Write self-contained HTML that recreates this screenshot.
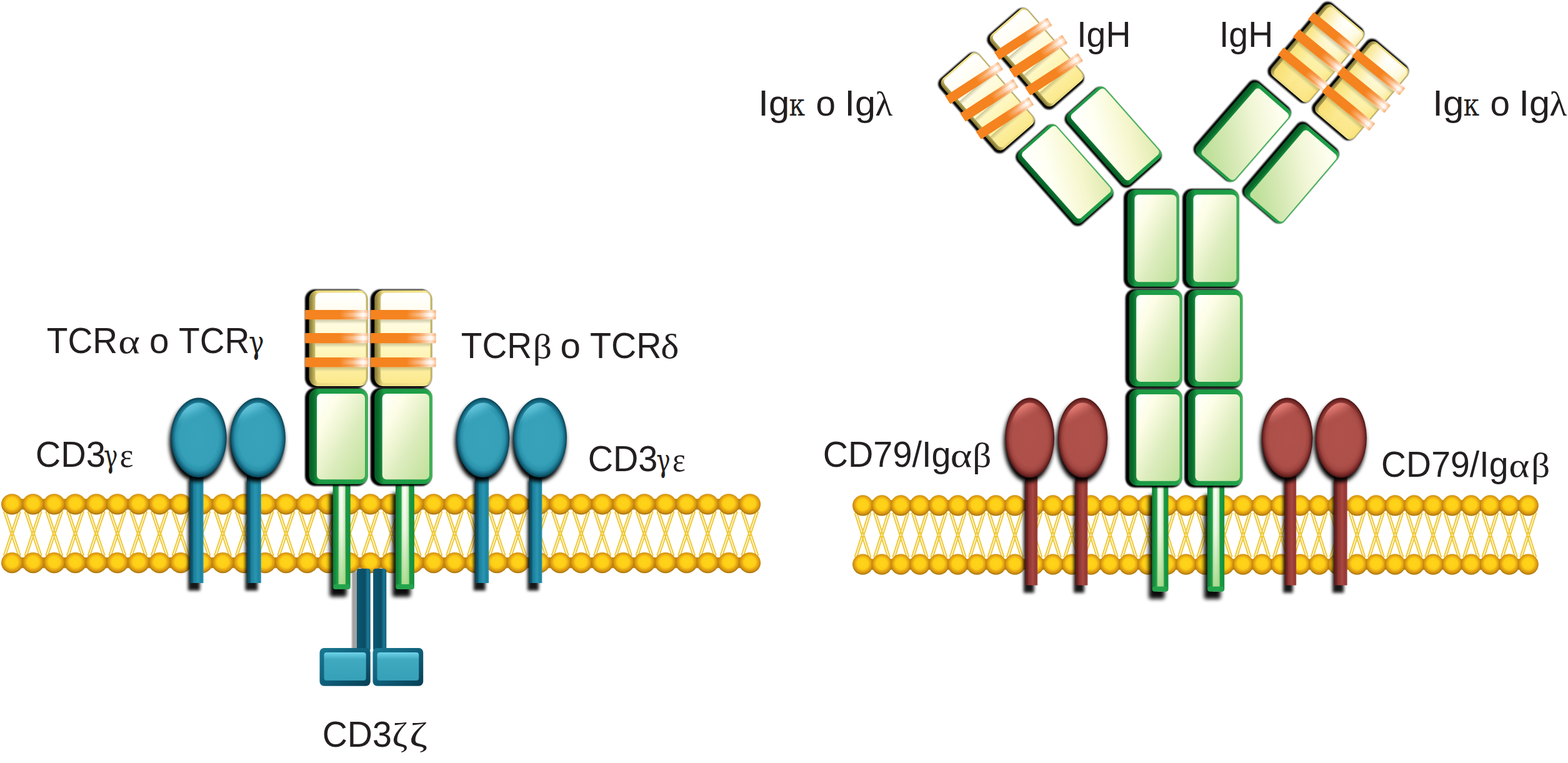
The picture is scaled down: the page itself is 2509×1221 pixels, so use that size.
<!DOCTYPE html>
<html lang="es"><head><meta charset="utf-8"><title>TCR y BCR</title>
<style>
html,body{margin:0;padding:0;background:#fff;}
body{width:2509px;height:1221px;overflow:hidden;}
svg{display:block;}
text{font-family:"Liberation Sans",sans-serif;fill:#231f20;white-space:pre;}
.gk{font-family:"Liberation Serif","DejaVu Serif",serif;}
.gd{font-family:"DejaVu Serif","Liberation Serif",serif;}
</style></head><body>
<svg width="2509" height="1221" viewBox="0 0 2509 1221">

<defs>
  <!-- lipid heads -->
  <radialGradient id="hd" cx="0.5" cy="0.46" r="0.52">
    <stop offset="0" stop-color="#ffd41a"/>
    <stop offset="0.5" stop-color="#fdd017"/>
    <stop offset="0.62" stop-color="#f5bb15"/>
    <stop offset="0.72" stop-color="#e7a912"/>
    <stop offset="0.88" stop-color="#d29010"/>
    <stop offset="1" stop-color="#a9760e"/>
  </radialGradient>
  <!-- teal -->
  <radialGradient id="tealE" cx="0.5" cy="0.5" r="0.5">
    <stop offset="0" stop-color="#37a2ba"/>
    <stop offset="0.7" stop-color="#35a0b8"/>
    <stop offset="0.83" stop-color="#2a90aa"/>
    <stop offset="0.93" stop-color="#13667e"/>
    <stop offset="1" stop-color="#073f52"/>
  </radialGradient>
  <linearGradient id="tealHi" x1="0.3" y1="0" x2="0.6" y2="1">
    <stop offset="0" stop-color="#7fdcf0" stop-opacity="0.85"/>
    <stop offset="0.1" stop-color="#6fd0e6" stop-opacity="0.6"/>
    <stop offset="0.24" stop-color="#46b0c8" stop-opacity="0"/>
  </linearGradient>
  <linearGradient id="tealS" x1="0" y1="0" x2="1" y2="0">
    <stop offset="0" stop-color="#0a4357"/>
    <stop offset="0.2" stop-color="#0f5a72"/>
    <stop offset="0.3" stop-color="#1b7f9b"/>
    <stop offset="0.62" stop-color="#2a96b2"/>
    <stop offset="0.85" stop-color="#1c829e"/>
    <stop offset="1" stop-color="#2b94b0"/>
  </linearGradient>
  <linearGradient id="tealZ" x1="0" y1="0" x2="1" y2="0">
    <stop offset="0" stop-color="#0c566f"/>
    <stop offset="0.6" stop-color="#0a4d66"/>
    <stop offset="0.8" stop-color="#1a7894"/>
    <stop offset="1" stop-color="#0f607b"/>
  </linearGradient>
  <linearGradient id="tealB" x1="0" y1="0" x2="0" y2="1">
    <stop offset="0" stop-color="#6fd4ea"/>
    <stop offset="0.25" stop-color="#3fa9c0"/>
    <stop offset="1" stop-color="#36a0b8"/>
  </linearGradient>
  <linearGradient id="tealBo" x1="0" y1="0" x2="1" y2="1">
    <stop offset="0" stop-color="#1a7892"/>
    <stop offset="0.5" stop-color="#0f5f7a"/>
    <stop offset="1" stop-color="#083f55"/>
  </linearGradient>
  <!-- red -->
  <radialGradient id="redE" cx="0.5" cy="0.5" r="0.5">
    <stop offset="0" stop-color="#b0524b"/>
    <stop offset="0.7" stop-color="#ae504a"/>
    <stop offset="0.83" stop-color="#a04540"/>
    <stop offset="0.93" stop-color="#782a28"/>
    <stop offset="1" stop-color="#4a1413"/>
  </radialGradient>
  <linearGradient id="redHi" x1="0.3" y1="0" x2="0.6" y2="1">
    <stop offset="0" stop-color="#ff9b90" stop-opacity="0.85"/>
    <stop offset="0.1" stop-color="#f0857c" stop-opacity="0.6"/>
    <stop offset="0.24" stop-color="#c0605a" stop-opacity="0"/>
  </linearGradient>
  <linearGradient id="redS" x1="0" y1="0" x2="1" y2="0">
    <stop offset="0" stop-color="#571a19"/>
    <stop offset="0.2" stop-color="#702524"/>
    <stop offset="0.3" stop-color="#8e3532"/>
    <stop offset="0.62" stop-color="#a84842"/>
    <stop offset="0.85" stop-color="#933935"/>
    <stop offset="1" stop-color="#a5453f"/>
  </linearGradient>
  <!-- green box -->
  <linearGradient id="grO" x1="0" y1="0" x2="1" y2="0">
    <stop offset="0" stop-color="#075a24"/>
    <stop offset="0.08" stop-color="#0b6f2e"/>
    <stop offset="0.16" stop-color="#1c9a45"/>
    <stop offset="0.9" stop-color="#1fa049"/>
    <stop offset="1" stop-color="#4db35f"/>
  </linearGradient>
  <linearGradient id="grI" x1="0" y1="0" x2="1" y2="1">
    <stop offset="0" stop-color="#ffffff"/>
    <stop offset="0.25" stop-color="#fdfde6"/>
    <stop offset="0.6" stop-color="#dcecbd"/>
    <stop offset="1" stop-color="#bfe09a"/>
  </linearGradient>
  <linearGradient id="grSt" x1="0" y1="0" x2="1" y2="0">
    <stop offset="0" stop-color="#0d7a33"/>
    <stop offset="0.3" stop-color="#23a44c"/>
    <stop offset="0.36" stop-color="#e9f6dc"/>
    <stop offset="0.5" stop-color="#ffffff"/>
    <stop offset="0.68" stop-color="#d3eac0"/>
    <stop offset="0.74" stop-color="#1c9a45"/>
    <stop offset="1" stop-color="#15903f"/>
  </linearGradient>
  <linearGradient id="grStV" x1="0" y1="0" x2="0" y2="1">
    <stop offset="0" stop-color="#8fd06f" stop-opacity="0"/>
    <stop offset="0.45" stop-color="#8fd06f" stop-opacity="0.15"/>
    <stop offset="1" stop-color="#8fd06f" stop-opacity="0.75"/>
  </linearGradient>
  <!-- yellow box -->
  <linearGradient id="ylO" x1="0" y1="0" x2="1" y2="0">
    <stop offset="0" stop-color="#7d7130"/>
    <stop offset="0.07" stop-color="#b3a455"/>
    <stop offset="0.14" stop-color="#e9d980"/>
    <stop offset="0.9" stop-color="#f5e68e"/>
    <stop offset="1" stop-color="#b9aa5e"/>
  </linearGradient>
  <linearGradient id="ylI" x1="0" y1="0" x2="0" y2="1">
    <stop offset="0" stop-color="#ffffff"/>
    <stop offset="0.2" stop-color="#fffdf0"/>
    <stop offset="0.6" stop-color="#fff8c4"/>
    <stop offset="1" stop-color="#fbe98c"/>
  </linearGradient>
  <linearGradient id="bandG" x1="0" y1="0" x2="1" y2="0">
    <stop offset="0" stop-color="#f5831f"/>
    <stop offset="0.55" stop-color="#f5831f"/>
    <stop offset="0.75" stop-color="#f8a25a"/>
    <stop offset="0.92" stop-color="#fde3cf"/>
    <stop offset="0.97" stop-color="#fbc79e"/>
    <stop offset="1" stop-color="#f8a868"/>
  </linearGradient>
  <linearGradient id="bandW" x1="0" y1="0" x2="1" y2="0">
    <stop offset="0.55" stop-color="#fff" stop-opacity="0"/>
    <stop offset="0.8" stop-color="#fff" stop-opacity="0.35"/>
    <stop offset="0.93" stop-color="#fff" stop-opacity="0.85"/>
    <stop offset="1" stop-color="#fff" stop-opacity="0.2"/>
  </linearGradient>
  <linearGradient id="grIa" x1="0" y1="0" x2="1" y2="1">
    <stop offset="0" stop-color="#ffffff"/>
    <stop offset="0.3" stop-color="#fffff2"/>
    <stop offset="0.65" stop-color="#f6f7cf"/>
    <stop offset="1" stop-color="#dfe9ae"/>
  </linearGradient>
  <linearGradient id="grIb" x1="0.7" y1="0" x2="0.3" y2="1">
    <stop offset="0" stop-color="#fffff0"/>
    <stop offset="0.35" stop-color="#f1f6d6"/>
    <stop offset="0.7" stop-color="#d6e9b5"/>
    <stop offset="1" stop-color="#bfe09a"/>
  </linearGradient>
  <linearGradient id="ylIb" x1="0" y1="0" x2="0" y2="1">
    <stop offset="0" stop-color="#ffffff"/>
    <stop offset="0.25" stop-color="#fffbe0"/>
    <stop offset="0.6" stop-color="#fdf1a6"/>
    <stop offset="1" stop-color="#fbe583"/>
  </linearGradient>
  <linearGradient id="ylSide" x1="0" y1="0" x2="1" y2="0">
    <stop offset="0" stop-color="#f7dc6a" stop-opacity="0.75"/>
    <stop offset="0.3" stop-color="#f9e27a" stop-opacity="0.25"/>
    <stop offset="0.5" stop-color="#ffffff" stop-opacity="0"/>
    <stop offset="0.85" stop-color="#fbe88a" stop-opacity="0.2"/>
    <stop offset="1" stop-color="#f7dc6a" stop-opacity="0.5"/>
  </linearGradient>
  <linearGradient id="bandSh" x1="0" y1="0" x2="0" y2="1">
    <stop offset="0" stop-color="#8a8550" stop-opacity="0.45"/>
    <stop offset="1" stop-color="#8a8550" stop-opacity="0"/>
  </linearGradient>
  <filter id="sh" x="-30%" y="-30%" width="160%" height="160%">
    <feGaussianBlur stdDeviation="3.2"/>
  </filter>
  <filter id="sh2" x="-60%" y="-10%" width="220%" height="120%">
    <feGaussianBlur stdDeviation="2.4"/>
  </filter>
  <filter id="sh1" x="-30%" y="-30%" width="160%" height="160%">
    <feGaussianBlur stdDeviation="0.9"/>
  </filter>
  <filter id="soft" x="-5%" y="-5%" width="110%" height="110%">
    <feGaussianBlur stdDeviation="0.7"/>
  </filter>
</defs>

<rect width="2509" height="1221" fill="#fff"/>
<g>
<path d="M5.74 818.42 L29.26 888.98 M29.26 818.42 L5.74 888.98 M9.34 818.42 L32.86 888.98 M32.86 818.42 L9.34 888.98 M39.47 818.42 L62.99 888.98 M62.99 818.42 L39.47 888.98 M43.07 818.42 L66.59 888.98 M66.59 818.42 L43.07 888.98 M73.2 818.42 L96.72 888.98 M96.72 818.42 L73.2 888.98 M76.8 818.42 L100.32 888.98 M100.32 818.42 L76.8 888.98 M106.93 818.42 L130.45 888.98 M130.45 818.42 L106.93 888.98 M110.53 818.42 L134.05 888.98 M134.05 818.42 L110.53 888.98 M140.66 818.42 L164.18 888.98 M164.18 818.42 L140.66 888.98 M144.26 818.42 L167.78 888.98 M167.78 818.42 L144.26 888.98 M174.39 818.42 L197.91 888.98 M197.91 818.42 L174.39 888.98 M177.99 818.42 L201.51 888.98 M201.51 818.42 L177.99 888.98 M208.12 818.42 L231.64 888.98 M231.64 818.42 L208.12 888.98 M211.72 818.42 L235.24 888.98 M235.24 818.42 L211.72 888.98 M241.85 818.42 L265.37 888.98 M265.37 818.42 L241.85 888.98 M245.45 818.42 L268.97 888.98 M268.97 818.42 L245.45 888.98 M275.58 818.42 L299.1 888.98 M299.1 818.42 L275.58 888.98 M279.18 818.42 L302.7 888.98 M302.7 818.42 L279.18 888.98 M309.31 818.42 L332.83 888.98 M332.83 818.42 L309.31 888.98 M312.91 818.42 L336.43 888.98 M336.43 818.42 L312.91 888.98 M343.04 818.42 L366.56 888.98 M366.56 818.42 L343.04 888.98 M346.64 818.42 L370.16 888.98 M370.16 818.42 L346.64 888.98 M376.77 818.42 L400.29 888.98 M400.29 818.42 L376.77 888.98 M380.37 818.42 L403.89 888.98 M403.89 818.42 L380.37 888.98 M410.5 818.42 L434.02 888.98 M434.02 818.42 L410.5 888.98 M414.1 818.42 L437.62 888.98 M437.62 818.42 L414.1 888.98 M444.23 818.42 L467.75 888.98 M467.75 818.42 L444.23 888.98 M447.83 818.42 L471.35 888.98 M471.35 818.42 L447.83 888.98 M477.96 818.42 L501.48 888.98 M501.48 818.42 L477.96 888.98 M481.56 818.42 L505.08 888.98 M505.08 818.42 L481.56 888.98 M511.69 818.42 L535.21 888.98 M535.21 818.42 L511.69 888.98 M515.29 818.42 L538.81 888.98 M538.81 818.42 L515.29 888.98 M545.42 818.42 L568.94 888.98 M568.94 818.42 L545.42 888.98 M549.02 818.42 L572.54 888.98 M572.54 818.42 L549.02 888.98 M579.15 818.42 L602.67 888.98 M602.67 818.42 L579.15 888.98 M582.75 818.42 L606.27 888.98 M606.27 818.42 L582.75 888.98 M612.88 818.42 L636.4 888.98 M636.4 818.42 L612.88 888.98 M616.48 818.42 L640 888.98 M640 818.42 L616.48 888.98 M646.61 818.42 L670.13 888.98 M670.13 818.42 L646.61 888.98 M650.21 818.42 L673.73 888.98 M673.73 818.42 L650.21 888.98 M680.34 818.42 L703.86 888.98 M703.86 818.42 L680.34 888.98 M683.94 818.42 L707.46 888.98 M707.46 818.42 L683.94 888.98 M714.07 818.42 L737.59 888.98 M737.59 818.42 L714.07 888.98 M717.67 818.42 L741.19 888.98 M741.19 818.42 L717.67 888.98 M747.8 818.42 L771.32 888.98 M771.32 818.42 L747.8 888.98 M751.4 818.42 L774.92 888.98 M774.92 818.42 L751.4 888.98 M781.53 818.42 L805.05 888.98 M805.05 818.42 L781.53 888.98 M785.13 818.42 L808.65 888.98 M808.65 818.42 L785.13 888.98 M815.26 818.42 L838.78 888.98 M838.78 818.42 L815.26 888.98 M818.86 818.42 L842.38 888.98 M842.38 818.42 L818.86 888.98 M848.99 818.42 L872.51 888.98 M872.51 818.42 L848.99 888.98 M852.59 818.42 L876.11 888.98 M876.11 818.42 L852.59 888.98 M882.72 818.42 L906.24 888.98 M906.24 818.42 L882.72 888.98 M886.32 818.42 L909.84 888.98 M909.84 818.42 L886.32 888.98 M916.45 818.42 L939.97 888.98 M939.97 818.42 L916.45 888.98 M920.05 818.42 L943.57 888.98 M943.57 818.42 L920.05 888.98 M950.18 818.42 L973.7 888.98 M973.7 818.42 L950.18 888.98 M953.78 818.42 L977.3 888.98 M977.3 818.42 L953.78 888.98 M983.91 818.42 L1007.43 888.98 M1007.43 818.42 L983.91 888.98 M987.51 818.42 L1011.03 888.98 M1011.03 818.42 L987.51 888.98 M1017.64 818.42 L1041.16 888.98 M1041.16 818.42 L1017.64 888.98 M1021.24 818.42 L1044.76 888.98 M1044.76 818.42 L1021.24 888.98 M1051.37 818.42 L1074.89 888.98 M1074.89 818.42 L1051.37 888.98 M1054.97 818.42 L1078.49 888.98 M1078.49 818.42 L1054.97 888.98 M1085.1 818.42 L1108.62 888.98 M1108.62 818.42 L1085.1 888.98 M1088.7 818.42 L1112.22 888.98 M1112.22 818.42 L1088.7 888.98 M1118.83 818.42 L1142.35 888.98 M1142.35 818.42 L1118.83 888.98 M1122.43 818.42 L1145.95 888.98 M1145.95 818.42 L1122.43 888.98 M1152.56 818.42 L1176.08 888.98 M1176.08 818.42 L1152.56 888.98 M1156.16 818.42 L1179.68 888.98 M1179.68 818.42 L1156.16 888.98 M1186.29 818.42 L1209.81 888.98 M1209.81 818.42 L1186.29 888.98 M1189.89 818.42 L1213.41 888.98 M1213.41 818.42 L1189.89 888.98" fill="none" stroke="#f0ca38" stroke-width="2.1"/>
<rect x="19.3" y="798.17" width="1180.55" height="17.26" rx="7" fill="#c48a12"/>
<ellipse cx="19.3" cy="806.8" rx="17.3" ry="16.6" fill="url(#hd)"/>
<ellipse cx="53.03" cy="806.8" rx="17.3" ry="16.6" fill="url(#hd)"/>
<ellipse cx="86.76" cy="806.8" rx="17.3" ry="16.6" fill="url(#hd)"/>
<ellipse cx="120.49" cy="806.8" rx="17.3" ry="16.6" fill="url(#hd)"/>
<ellipse cx="154.22" cy="806.8" rx="17.3" ry="16.6" fill="url(#hd)"/>
<ellipse cx="187.95" cy="806.8" rx="17.3" ry="16.6" fill="url(#hd)"/>
<ellipse cx="221.68" cy="806.8" rx="17.3" ry="16.6" fill="url(#hd)"/>
<ellipse cx="255.41" cy="806.8" rx="17.3" ry="16.6" fill="url(#hd)"/>
<ellipse cx="289.14" cy="806.8" rx="17.3" ry="16.6" fill="url(#hd)"/>
<ellipse cx="322.87" cy="806.8" rx="17.3" ry="16.6" fill="url(#hd)"/>
<ellipse cx="356.6" cy="806.8" rx="17.3" ry="16.6" fill="url(#hd)"/>
<ellipse cx="390.33" cy="806.8" rx="17.3" ry="16.6" fill="url(#hd)"/>
<ellipse cx="424.06" cy="806.8" rx="17.3" ry="16.6" fill="url(#hd)"/>
<ellipse cx="457.79" cy="806.8" rx="17.3" ry="16.6" fill="url(#hd)"/>
<ellipse cx="491.52" cy="806.8" rx="17.3" ry="16.6" fill="url(#hd)"/>
<ellipse cx="525.25" cy="806.8" rx="17.3" ry="16.6" fill="url(#hd)"/>
<ellipse cx="558.98" cy="806.8" rx="17.3" ry="16.6" fill="url(#hd)"/>
<ellipse cx="592.71" cy="806.8" rx="17.3" ry="16.6" fill="url(#hd)"/>
<ellipse cx="626.44" cy="806.8" rx="17.3" ry="16.6" fill="url(#hd)"/>
<ellipse cx="660.17" cy="806.8" rx="17.3" ry="16.6" fill="url(#hd)"/>
<ellipse cx="693.9" cy="806.8" rx="17.3" ry="16.6" fill="url(#hd)"/>
<ellipse cx="727.63" cy="806.8" rx="17.3" ry="16.6" fill="url(#hd)"/>
<ellipse cx="761.36" cy="806.8" rx="17.3" ry="16.6" fill="url(#hd)"/>
<ellipse cx="795.09" cy="806.8" rx="17.3" ry="16.6" fill="url(#hd)"/>
<ellipse cx="828.82" cy="806.8" rx="17.3" ry="16.6" fill="url(#hd)"/>
<ellipse cx="862.55" cy="806.8" rx="17.3" ry="16.6" fill="url(#hd)"/>
<ellipse cx="896.28" cy="806.8" rx="17.3" ry="16.6" fill="url(#hd)"/>
<ellipse cx="930.01" cy="806.8" rx="17.3" ry="16.6" fill="url(#hd)"/>
<ellipse cx="963.74" cy="806.8" rx="17.3" ry="16.6" fill="url(#hd)"/>
<ellipse cx="997.47" cy="806.8" rx="17.3" ry="16.6" fill="url(#hd)"/>
<ellipse cx="1031.2" cy="806.8" rx="17.3" ry="16.6" fill="url(#hd)"/>
<ellipse cx="1064.93" cy="806.8" rx="17.3" ry="16.6" fill="url(#hd)"/>
<ellipse cx="1098.66" cy="806.8" rx="17.3" ry="16.6" fill="url(#hd)"/>
<ellipse cx="1132.39" cy="806.8" rx="17.3" ry="16.6" fill="url(#hd)"/>
<ellipse cx="1166.12" cy="806.8" rx="17.3" ry="16.6" fill="url(#hd)"/>
<ellipse cx="1199.85" cy="806.8" rx="17.3" ry="16.6" fill="url(#hd)"/>
<rect x="19.3" y="891.97" width="1180.55" height="17.26" rx="7" fill="#c48a12"/>
<ellipse cx="19.3" cy="900.6" rx="17.3" ry="16.6" fill="url(#hd)"/>
<ellipse cx="53.03" cy="900.6" rx="17.3" ry="16.6" fill="url(#hd)"/>
<ellipse cx="86.76" cy="900.6" rx="17.3" ry="16.6" fill="url(#hd)"/>
<ellipse cx="120.49" cy="900.6" rx="17.3" ry="16.6" fill="url(#hd)"/>
<ellipse cx="154.22" cy="900.6" rx="17.3" ry="16.6" fill="url(#hd)"/>
<ellipse cx="187.95" cy="900.6" rx="17.3" ry="16.6" fill="url(#hd)"/>
<ellipse cx="221.68" cy="900.6" rx="17.3" ry="16.6" fill="url(#hd)"/>
<ellipse cx="255.41" cy="900.6" rx="17.3" ry="16.6" fill="url(#hd)"/>
<ellipse cx="289.14" cy="900.6" rx="17.3" ry="16.6" fill="url(#hd)"/>
<ellipse cx="322.87" cy="900.6" rx="17.3" ry="16.6" fill="url(#hd)"/>
<ellipse cx="356.6" cy="900.6" rx="17.3" ry="16.6" fill="url(#hd)"/>
<ellipse cx="390.33" cy="900.6" rx="17.3" ry="16.6" fill="url(#hd)"/>
<ellipse cx="424.06" cy="900.6" rx="17.3" ry="16.6" fill="url(#hd)"/>
<ellipse cx="457.79" cy="900.6" rx="17.3" ry="16.6" fill="url(#hd)"/>
<ellipse cx="491.52" cy="900.6" rx="17.3" ry="16.6" fill="url(#hd)"/>
<ellipse cx="525.25" cy="900.6" rx="17.3" ry="16.6" fill="url(#hd)"/>
<ellipse cx="558.98" cy="900.6" rx="17.3" ry="16.6" fill="url(#hd)"/>
<ellipse cx="592.71" cy="900.6" rx="17.3" ry="16.6" fill="url(#hd)"/>
<ellipse cx="626.44" cy="900.6" rx="17.3" ry="16.6" fill="url(#hd)"/>
<ellipse cx="660.17" cy="900.6" rx="17.3" ry="16.6" fill="url(#hd)"/>
<ellipse cx="693.9" cy="900.6" rx="17.3" ry="16.6" fill="url(#hd)"/>
<ellipse cx="727.63" cy="900.6" rx="17.3" ry="16.6" fill="url(#hd)"/>
<ellipse cx="761.36" cy="900.6" rx="17.3" ry="16.6" fill="url(#hd)"/>
<ellipse cx="795.09" cy="900.6" rx="17.3" ry="16.6" fill="url(#hd)"/>
<ellipse cx="828.82" cy="900.6" rx="17.3" ry="16.6" fill="url(#hd)"/>
<ellipse cx="862.55" cy="900.6" rx="17.3" ry="16.6" fill="url(#hd)"/>
<ellipse cx="896.28" cy="900.6" rx="17.3" ry="16.6" fill="url(#hd)"/>
<ellipse cx="930.01" cy="900.6" rx="17.3" ry="16.6" fill="url(#hd)"/>
<ellipse cx="963.74" cy="900.6" rx="17.3" ry="16.6" fill="url(#hd)"/>
<ellipse cx="997.47" cy="900.6" rx="17.3" ry="16.6" fill="url(#hd)"/>
<ellipse cx="1031.2" cy="900.6" rx="17.3" ry="16.6" fill="url(#hd)"/>
<ellipse cx="1064.93" cy="900.6" rx="17.3" ry="16.6" fill="url(#hd)"/>
<ellipse cx="1098.66" cy="900.6" rx="17.3" ry="16.6" fill="url(#hd)"/>
<ellipse cx="1132.39" cy="900.6" rx="17.3" ry="16.6" fill="url(#hd)"/>
<ellipse cx="1166.12" cy="900.6" rx="17.3" ry="16.6" fill="url(#hd)"/>
<ellipse cx="1199.85" cy="900.6" rx="17.3" ry="16.6" fill="url(#hd)"/>
</g>
<g>
<path d="M1367.58 820.52 L1390.02 891.58 M1390.02 820.52 L1367.58 891.58 M1371.18 820.52 L1393.62 891.58 M1393.62 820.52 L1371.18 891.58 M1398 820.52 L1420.44 891.58 M1420.44 820.52 L1398 891.58 M1401.6 820.52 L1424.04 891.58 M1424.04 820.52 L1401.6 891.58 M1428.42 820.52 L1450.86 891.58 M1450.86 820.52 L1428.42 891.58 M1432.02 820.52 L1454.46 891.58 M1454.46 820.52 L1432.02 891.58 M1458.84 820.52 L1481.28 891.58 M1481.28 820.52 L1458.84 891.58 M1462.44 820.52 L1484.88 891.58 M1484.88 820.52 L1462.44 891.58 M1489.26 820.52 L1511.7 891.58 M1511.7 820.52 L1489.26 891.58 M1492.86 820.52 L1515.3 891.58 M1515.3 820.52 L1492.86 891.58 M1519.68 820.52 L1542.12 891.58 M1542.12 820.52 L1519.68 891.58 M1523.28 820.52 L1545.72 891.58 M1545.72 820.52 L1523.28 891.58 M1550.1 820.52 L1572.54 891.58 M1572.54 820.52 L1550.1 891.58 M1553.7 820.52 L1576.14 891.58 M1576.14 820.52 L1553.7 891.58 M1580.52 820.52 L1602.96 891.58 M1602.96 820.52 L1580.52 891.58 M1584.12 820.52 L1606.56 891.58 M1606.56 820.52 L1584.12 891.58 M1610.94 820.52 L1633.38 891.58 M1633.38 820.52 L1610.94 891.58 M1614.54 820.52 L1636.98 891.58 M1636.98 820.52 L1614.54 891.58 M1641.36 820.52 L1663.8 891.58 M1663.8 820.52 L1641.36 891.58 M1644.96 820.52 L1667.4 891.58 M1667.4 820.52 L1644.96 891.58 M1671.78 820.52 L1694.22 891.58 M1694.22 820.52 L1671.78 891.58 M1675.38 820.52 L1697.82 891.58 M1697.82 820.52 L1675.38 891.58 M1702.2 820.52 L1724.64 891.58 M1724.64 820.52 L1702.2 891.58 M1705.8 820.52 L1728.24 891.58 M1728.24 820.52 L1705.8 891.58 M1732.62 820.52 L1755.06 891.58 M1755.06 820.52 L1732.62 891.58 M1736.22 820.52 L1758.66 891.58 M1758.66 820.52 L1736.22 891.58 M1763.04 820.52 L1785.48 891.58 M1785.48 820.52 L1763.04 891.58 M1766.64 820.52 L1789.08 891.58 M1789.08 820.52 L1766.64 891.58 M1793.46 820.52 L1815.9 891.58 M1815.9 820.52 L1793.46 891.58 M1797.06 820.52 L1819.5 891.58 M1819.5 820.52 L1797.06 891.58 M1823.88 820.52 L1846.32 891.58 M1846.32 820.52 L1823.88 891.58 M1827.48 820.52 L1849.92 891.58 M1849.92 820.52 L1827.48 891.58 M1854.3 820.52 L1876.74 891.58 M1876.74 820.52 L1854.3 891.58 M1857.9 820.52 L1880.34 891.58 M1880.34 820.52 L1857.9 891.58 M1884.72 820.52 L1907.16 891.58 M1907.16 820.52 L1884.72 891.58 M1888.32 820.52 L1910.76 891.58 M1910.76 820.52 L1888.32 891.58 M1915.14 820.52 L1937.58 891.58 M1937.58 820.52 L1915.14 891.58 M1918.74 820.52 L1941.18 891.58 M1941.18 820.52 L1918.74 891.58 M1945.56 820.52 L1968 891.58 M1968 820.52 L1945.56 891.58 M1949.16 820.52 L1971.6 891.58 M1971.6 820.52 L1949.16 891.58 M1975.98 820.52 L1998.42 891.58 M1998.42 820.52 L1975.98 891.58 M1979.58 820.52 L2002.02 891.58 M2002.02 820.52 L1979.58 891.58 M2006.4 820.52 L2028.84 891.58 M2028.84 820.52 L2006.4 891.58 M2010 820.52 L2032.44 891.58 M2032.44 820.52 L2010 891.58 M2036.82 820.52 L2059.26 891.58 M2059.26 820.52 L2036.82 891.58 M2040.42 820.52 L2062.86 891.58 M2062.86 820.52 L2040.42 891.58 M2067.24 820.52 L2089.68 891.58 M2089.68 820.52 L2067.24 891.58 M2070.84 820.52 L2093.28 891.58 M2093.28 820.52 L2070.84 891.58 M2097.66 820.52 L2120.1 891.58 M2120.1 820.52 L2097.66 891.58 M2101.26 820.52 L2123.7 891.58 M2123.7 820.52 L2101.26 891.58 M2128.08 820.52 L2150.52 891.58 M2150.52 820.52 L2128.08 891.58 M2131.68 820.52 L2154.12 891.58 M2154.12 820.52 L2131.68 891.58 M2158.5 820.52 L2180.94 891.58 M2180.94 820.52 L2158.5 891.58 M2162.1 820.52 L2184.54 891.58 M2184.54 820.52 L2162.1 891.58 M2188.92 820.52 L2211.36 891.58 M2211.36 820.52 L2188.92 891.58 M2192.52 820.52 L2214.96 891.58 M2214.96 820.52 L2192.52 891.58 M2219.34 820.52 L2241.78 891.58 M2241.78 820.52 L2219.34 891.58 M2222.94 820.52 L2245.38 891.58 M2245.38 820.52 L2222.94 891.58 M2249.76 820.52 L2272.2 891.58 M2272.2 820.52 L2249.76 891.58 M2253.36 820.52 L2275.8 891.58 M2275.8 820.52 L2253.36 891.58 M2280.18 820.52 L2302.62 891.58 M2302.62 820.52 L2280.18 891.58 M2283.78 820.52 L2306.22 891.58 M2306.22 820.52 L2283.78 891.58 M2310.6 820.52 L2333.04 891.58 M2333.04 820.52 L2310.6 891.58 M2314.2 820.52 L2336.64 891.58 M2336.64 820.52 L2314.2 891.58 M2341.02 820.52 L2363.46 891.58 M2363.46 820.52 L2341.02 891.58 M2344.62 820.52 L2367.06 891.58 M2367.06 820.52 L2344.62 891.58 M2371.44 820.52 L2393.88 891.58 M2393.88 820.52 L2371.44 891.58 M2375.04 820.52 L2397.48 891.58 M2397.48 820.52 L2375.04 891.58 M2401.86 820.52 L2424.3 891.58 M2424.3 820.52 L2401.86 891.58 M2405.46 820.52 L2427.9 891.58 M2427.9 820.52 L2405.46 891.58 M2432.28 820.52 L2454.72 891.58 M2454.72 820.52 L2432.28 891.58 M2435.88 820.52 L2458.32 891.58 M2458.32 820.52 L2435.88 891.58" fill="none" stroke="#f0ca38" stroke-width="2.1"/>
<rect x="1380.6" y="800.27" width="1064.7" height="17.26" rx="7" fill="#c48a12"/>
<ellipse cx="1380.6" cy="808.9" rx="16.5" ry="16.6" fill="url(#hd)"/>
<ellipse cx="1411.02" cy="808.9" rx="16.5" ry="16.6" fill="url(#hd)"/>
<ellipse cx="1441.44" cy="808.9" rx="16.5" ry="16.6" fill="url(#hd)"/>
<ellipse cx="1471.86" cy="808.9" rx="16.5" ry="16.6" fill="url(#hd)"/>
<ellipse cx="1502.28" cy="808.9" rx="16.5" ry="16.6" fill="url(#hd)"/>
<ellipse cx="1532.7" cy="808.9" rx="16.5" ry="16.6" fill="url(#hd)"/>
<ellipse cx="1563.12" cy="808.9" rx="16.5" ry="16.6" fill="url(#hd)"/>
<ellipse cx="1593.54" cy="808.9" rx="16.5" ry="16.6" fill="url(#hd)"/>
<ellipse cx="1623.96" cy="808.9" rx="16.5" ry="16.6" fill="url(#hd)"/>
<ellipse cx="1654.38" cy="808.9" rx="16.5" ry="16.6" fill="url(#hd)"/>
<ellipse cx="1684.8" cy="808.9" rx="16.5" ry="16.6" fill="url(#hd)"/>
<ellipse cx="1715.22" cy="808.9" rx="16.5" ry="16.6" fill="url(#hd)"/>
<ellipse cx="1745.64" cy="808.9" rx="16.5" ry="16.6" fill="url(#hd)"/>
<ellipse cx="1776.06" cy="808.9" rx="16.5" ry="16.6" fill="url(#hd)"/>
<ellipse cx="1806.48" cy="808.9" rx="16.5" ry="16.6" fill="url(#hd)"/>
<ellipse cx="1836.9" cy="808.9" rx="16.5" ry="16.6" fill="url(#hd)"/>
<ellipse cx="1867.32" cy="808.9" rx="16.5" ry="16.6" fill="url(#hd)"/>
<ellipse cx="1897.74" cy="808.9" rx="16.5" ry="16.6" fill="url(#hd)"/>
<ellipse cx="1928.16" cy="808.9" rx="16.5" ry="16.6" fill="url(#hd)"/>
<ellipse cx="1958.58" cy="808.9" rx="16.5" ry="16.6" fill="url(#hd)"/>
<ellipse cx="1989" cy="808.9" rx="16.5" ry="16.6" fill="url(#hd)"/>
<ellipse cx="2019.42" cy="808.9" rx="16.5" ry="16.6" fill="url(#hd)"/>
<ellipse cx="2049.84" cy="808.9" rx="16.5" ry="16.6" fill="url(#hd)"/>
<ellipse cx="2080.26" cy="808.9" rx="16.5" ry="16.6" fill="url(#hd)"/>
<ellipse cx="2110.68" cy="808.9" rx="16.5" ry="16.6" fill="url(#hd)"/>
<ellipse cx="2141.1" cy="808.9" rx="16.5" ry="16.6" fill="url(#hd)"/>
<ellipse cx="2171.52" cy="808.9" rx="16.5" ry="16.6" fill="url(#hd)"/>
<ellipse cx="2201.94" cy="808.9" rx="16.5" ry="16.6" fill="url(#hd)"/>
<ellipse cx="2232.36" cy="808.9" rx="16.5" ry="16.6" fill="url(#hd)"/>
<ellipse cx="2262.78" cy="808.9" rx="16.5" ry="16.6" fill="url(#hd)"/>
<ellipse cx="2293.2" cy="808.9" rx="16.5" ry="16.6" fill="url(#hd)"/>
<ellipse cx="2323.62" cy="808.9" rx="16.5" ry="16.6" fill="url(#hd)"/>
<ellipse cx="2354.04" cy="808.9" rx="16.5" ry="16.6" fill="url(#hd)"/>
<ellipse cx="2384.46" cy="808.9" rx="16.5" ry="16.6" fill="url(#hd)"/>
<ellipse cx="2414.88" cy="808.9" rx="16.5" ry="16.6" fill="url(#hd)"/>
<ellipse cx="2445.3" cy="808.9" rx="16.5" ry="16.6" fill="url(#hd)"/>
<rect x="1380.6" y="894.57" width="1064.7" height="17.26" rx="7" fill="#c48a12"/>
<ellipse cx="1380.6" cy="903.2" rx="16.5" ry="16.6" fill="url(#hd)"/>
<ellipse cx="1411.02" cy="903.2" rx="16.5" ry="16.6" fill="url(#hd)"/>
<ellipse cx="1441.44" cy="903.2" rx="16.5" ry="16.6" fill="url(#hd)"/>
<ellipse cx="1471.86" cy="903.2" rx="16.5" ry="16.6" fill="url(#hd)"/>
<ellipse cx="1502.28" cy="903.2" rx="16.5" ry="16.6" fill="url(#hd)"/>
<ellipse cx="1532.7" cy="903.2" rx="16.5" ry="16.6" fill="url(#hd)"/>
<ellipse cx="1563.12" cy="903.2" rx="16.5" ry="16.6" fill="url(#hd)"/>
<ellipse cx="1593.54" cy="903.2" rx="16.5" ry="16.6" fill="url(#hd)"/>
<ellipse cx="1623.96" cy="903.2" rx="16.5" ry="16.6" fill="url(#hd)"/>
<ellipse cx="1654.38" cy="903.2" rx="16.5" ry="16.6" fill="url(#hd)"/>
<ellipse cx="1684.8" cy="903.2" rx="16.5" ry="16.6" fill="url(#hd)"/>
<ellipse cx="1715.22" cy="903.2" rx="16.5" ry="16.6" fill="url(#hd)"/>
<ellipse cx="1745.64" cy="903.2" rx="16.5" ry="16.6" fill="url(#hd)"/>
<ellipse cx="1776.06" cy="903.2" rx="16.5" ry="16.6" fill="url(#hd)"/>
<ellipse cx="1806.48" cy="903.2" rx="16.5" ry="16.6" fill="url(#hd)"/>
<ellipse cx="1836.9" cy="903.2" rx="16.5" ry="16.6" fill="url(#hd)"/>
<ellipse cx="1867.32" cy="903.2" rx="16.5" ry="16.6" fill="url(#hd)"/>
<ellipse cx="1897.74" cy="903.2" rx="16.5" ry="16.6" fill="url(#hd)"/>
<ellipse cx="1928.16" cy="903.2" rx="16.5" ry="16.6" fill="url(#hd)"/>
<ellipse cx="1958.58" cy="903.2" rx="16.5" ry="16.6" fill="url(#hd)"/>
<ellipse cx="1989" cy="903.2" rx="16.5" ry="16.6" fill="url(#hd)"/>
<ellipse cx="2019.42" cy="903.2" rx="16.5" ry="16.6" fill="url(#hd)"/>
<ellipse cx="2049.84" cy="903.2" rx="16.5" ry="16.6" fill="url(#hd)"/>
<ellipse cx="2080.26" cy="903.2" rx="16.5" ry="16.6" fill="url(#hd)"/>
<ellipse cx="2110.68" cy="903.2" rx="16.5" ry="16.6" fill="url(#hd)"/>
<ellipse cx="2141.1" cy="903.2" rx="16.5" ry="16.6" fill="url(#hd)"/>
<ellipse cx="2171.52" cy="903.2" rx="16.5" ry="16.6" fill="url(#hd)"/>
<ellipse cx="2201.94" cy="903.2" rx="16.5" ry="16.6" fill="url(#hd)"/>
<ellipse cx="2232.36" cy="903.2" rx="16.5" ry="16.6" fill="url(#hd)"/>
<ellipse cx="2262.78" cy="903.2" rx="16.5" ry="16.6" fill="url(#hd)"/>
<ellipse cx="2293.2" cy="903.2" rx="16.5" ry="16.6" fill="url(#hd)"/>
<ellipse cx="2323.62" cy="903.2" rx="16.5" ry="16.6" fill="url(#hd)"/>
<ellipse cx="2354.04" cy="903.2" rx="16.5" ry="16.6" fill="url(#hd)"/>
<ellipse cx="2384.46" cy="903.2" rx="16.5" ry="16.6" fill="url(#hd)"/>
<ellipse cx="2414.88" cy="903.2" rx="16.5" ry="16.6" fill="url(#hd)"/>
<ellipse cx="2445.3" cy="903.2" rx="16.5" ry="16.6" fill="url(#hd)"/>
</g>
<rect x="300.9" y="768" width="19.1" height="177" fill="#000" opacity="0.9" filter="url(#sh2)"/>
<rect x="303.4" y="756" width="22.1" height="177" fill="url(#tealS)"/>
<ellipse cx="316" cy="706.8" rx="45.2" ry="64.2" fill="#000" filter="url(#sh)"/>
<ellipse cx="318" cy="700.3" rx="44.7" ry="63.7" fill="url(#tealE)"/>
<ellipse cx="318" cy="701.3" rx="37.7" ry="56.7" fill="url(#tealHi)"/>
<rect x="392.5" y="768" width="19.8" height="177" fill="#000" opacity="0.9" filter="url(#sh2)"/>
<rect x="395" y="756" width="22.8" height="177" fill="url(#tealS)"/>
<ellipse cx="410.6" cy="706.8" rx="44.7" ry="64.2" fill="#000" filter="url(#sh)"/>
<ellipse cx="412.6" cy="700.3" rx="44.2" ry="63.7" fill="url(#tealE)"/>
<ellipse cx="412.6" cy="701.3" rx="37.2" ry="56.7" fill="url(#tealHi)"/>
<rect x="757.8" y="768" width="18.9" height="177" fill="#000" opacity="0.9" filter="url(#sh2)"/>
<rect x="760.3" y="756" width="21.9" height="177" fill="url(#tealS)"/>
<ellipse cx="770.8" cy="706.8" rx="43.1" ry="64.2" fill="#000" filter="url(#sh)"/>
<ellipse cx="772.8" cy="700.3" rx="42.6" ry="63.7" fill="url(#tealE)"/>
<ellipse cx="772.8" cy="701.3" rx="35.6" ry="56.7" fill="url(#tealHi)"/>
<rect x="844.1" y="768" width="17.8" height="177" fill="#000" opacity="0.9" filter="url(#sh2)"/>
<rect x="846.6" y="756" width="20.8" height="177" fill="url(#tealS)"/>
<ellipse cx="862.1" cy="706.8" rx="43.4" ry="64.2" fill="#000" filter="url(#sh)"/>
<ellipse cx="864.1" cy="700.3" rx="42.9" ry="63.7" fill="url(#tealE)"/>
<ellipse cx="864.1" cy="701.3" rx="35.9" ry="56.7" fill="url(#tealHi)"/>
<g>
<rect x="563" y="914" width="12" height="126" fill="#555" opacity="0.55" filter="url(#sh1)"/>
<rect x="571" y="910" width="21.7" height="132" rx="4" fill="url(#tealZ)"/>
<rect x="597.1" y="910" width="21.2" height="132" rx="4" fill="url(#tealZ)"/>
<rect x="511.5" y="1037" width="81.2" height="60.7" rx="7" fill="url(#tealBo)"/>
<rect x="518.5" y="1044" width="67.2" height="45" rx="4" fill="url(#tealB)"/>
<rect x="596.5" y="1037" width="80.7" height="60.7" rx="7" fill="url(#tealBo)"/>
<rect x="603.5" y="1044" width="66.7" height="45" rx="4" fill="url(#tealB)"/>
</g>
<rect x="527.6" y="789" width="27.1" height="166" rx="3" fill="#000" opacity="0.95" filter="url(#sh)"/>
<rect x="532.6" y="773" width="28.1" height="170" rx="4" fill="url(#grSt)"/>
<rect x="541.87" y="777" width="11.24" height="160" fill="url(#grStV)"/>
<rect x="533.6" y="935" width="26.1" height="8" rx="3" fill="#23a44c"/>
<rect x="627.9" y="789" width="29" height="166" rx="3" fill="#000" opacity="0.95" filter="url(#sh)"/>
<rect x="632.9" y="773" width="30" height="170" rx="4" fill="url(#grSt)"/>
<rect x="642.8" y="777" width="12" height="160" fill="url(#grStV)"/>
<rect x="633.9" y="935" width="28" height="8" rx="3" fill="#23a44c"/>
<g transform="translate(538.5 699.15) rotate(0) translate(-50.5 -78.65)">
<rect x="0" y="0" width="99.8" height="157.3" rx="16" fill="#000" filter="url(#sh1)"/>
<rect x="6.5" y="1.5" width="94.5" height="152.8" rx="14" fill="url(#grO)"/>
<rect x="19" y="9.5" width="77" height="137.3" rx="7" fill="url(#grI)"/>
</g>
<g transform="translate(642.35 699.15) rotate(0) translate(-49.65 -78.65)">
<rect x="0" y="0" width="98.1" height="157.3" rx="16" fill="#000" filter="url(#sh1)"/>
<rect x="6.5" y="1.5" width="92.8" height="152.8" rx="14" fill="url(#grO)"/>
<rect x="19" y="9.5" width="75.3" height="137.3" rx="7" fill="url(#grI)"/>
</g>
<g transform="translate(538.25 542) rotate(0) translate(-50.25 -79)">
<rect x="0" y="0" width="99.3" height="158" rx="16" fill="#000" filter="url(#sh1)"/>
<rect x="6.5" y="1.5" width="94" height="153.5" rx="14" fill="url(#ylO)"/>
<rect x="16.5" y="5.5" width="81" height="144.5" rx="8" fill="url(#ylI)"/>
<rect x="16.5" y="48.35" width="81" height="7" fill="url(#bandSh)"/>
<rect x="16.5" y="86.27" width="81" height="7" fill="url(#bandSh)"/>
<rect x="16.5" y="124.5" width="81" height="7" fill="url(#bandSh)"/>
<g><rect x="0" y="33.02" width="101.5" height="15.33" rx="1.5" fill="url(#bandG)"/>
<rect x="0" y="37.62" width="101.5" height="6.13" fill="url(#bandW)"/></g>
<g><rect x="0" y="69.99" width="101.5" height="16.27" rx="1.5" fill="url(#bandG)"/>
<rect x="0" y="74.88" width="101.5" height="6.51" fill="url(#bandW)"/></g>
<g><rect x="0" y="109.02" width="101.5" height="15.48" rx="1.5" fill="url(#bandG)"/>
<rect x="0" y="113.67" width="101.5" height="6.19" fill="url(#bandW)"/></g>
</g>
<g transform="translate(642.1 542) rotate(0) translate(-49.4 -79)">
<rect x="0" y="0" width="97.6" height="158" rx="16" fill="#000" filter="url(#sh1)"/>
<rect x="6.5" y="1.5" width="92.3" height="153.5" rx="14" fill="url(#ylO)"/>
<rect x="16.5" y="5.5" width="79.3" height="144.5" rx="8" fill="url(#ylI)"/>
<rect x="16.5" y="48.35" width="79.3" height="7" fill="url(#bandSh)"/>
<rect x="16.5" y="86.27" width="79.3" height="7" fill="url(#bandSh)"/>
<rect x="16.5" y="124.5" width="79.3" height="7" fill="url(#bandSh)"/>
<g><rect x="0" y="33.02" width="104.8" height="15.33" rx="1.5" fill="url(#bandG)"/>
<rect x="0" y="37.62" width="104.8" height="6.13" fill="url(#bandW)"/></g>
<g><rect x="0" y="69.99" width="104.8" height="16.27" rx="1.5" fill="url(#bandG)"/>
<rect x="0" y="74.88" width="104.8" height="6.51" fill="url(#bandW)"/></g>
<g><rect x="0" y="109.02" width="104.8" height="15.48" rx="1.5" fill="url(#bandG)"/>
<rect x="0" y="113.67" width="104.8" height="6.19" fill="url(#bandW)"/></g>
</g>
<rect x="1637.9" y="768.6" width="16.8" height="180" fill="#000" opacity="0.9" filter="url(#sh2)"/>
<rect x="1640.4" y="756.6" width="19.8" height="180" fill="url(#redS)"/>
<ellipse cx="1645.9" cy="707.1" rx="39.8" ry="64.5" fill="#000" filter="url(#sh)"/>
<ellipse cx="1647.9" cy="700.6" rx="39.3" ry="64" fill="url(#redE)"/>
<ellipse cx="1647.9" cy="701.6" rx="32.3" ry="57" fill="url(#redHi)"/>
<rect x="1718.1" y="768.6" width="16.8" height="180" fill="#000" opacity="0.9" filter="url(#sh2)"/>
<rect x="1720.6" y="756.6" width="19.8" height="180" fill="url(#redS)"/>
<ellipse cx="1730.6" cy="707.1" rx="40.3" ry="64.5" fill="#000" filter="url(#sh)"/>
<ellipse cx="1732.6" cy="700.6" rx="39.8" ry="64" fill="url(#redE)"/>
<ellipse cx="1732.6" cy="701.6" rx="32.8" ry="57" fill="url(#redHi)"/>
<rect x="2053.2" y="768.6" width="15.5" height="180" fill="#000" opacity="0.9" filter="url(#sh2)"/>
<rect x="2055.7" y="756.6" width="18.5" height="180" fill="url(#redS)"/>
<ellipse cx="2057.8" cy="707.1" rx="41.3" ry="64.5" fill="#000" filter="url(#sh)"/>
<ellipse cx="2059.8" cy="700.6" rx="40.8" ry="64" fill="url(#redE)"/>
<ellipse cx="2059.8" cy="701.6" rx="33.8" ry="57" fill="url(#redHi)"/>
<rect x="2132.2" y="768.6" width="18" height="180" fill="#000" opacity="0.9" filter="url(#sh2)"/>
<rect x="2134.7" y="756.6" width="21" height="180" fill="url(#redS)"/>
<ellipse cx="2143.9" cy="707.1" rx="41.6" ry="64.5" fill="#000" filter="url(#sh)"/>
<ellipse cx="2145.9" cy="700.6" rx="41.1" ry="64" fill="url(#redE)"/>
<ellipse cx="2145.9" cy="701.6" rx="34.1" ry="57" fill="url(#redHi)"/>
<rect x="1838.3" y="792" width="25.2" height="166.5" rx="3" fill="#000" opacity="0.95" filter="url(#sh)"/>
<rect x="1843.3" y="776" width="26.2" height="170.5" rx="4" fill="url(#grSt)"/>
<rect x="1851.95" y="780" width="10.48" height="160.5" fill="url(#grStV)"/>
<rect x="1844.3" y="938.5" width="24.2" height="8" rx="3" fill="#23a44c"/>
<rect x="1926.8" y="792" width="26.4" height="166.5" rx="3" fill="#000" opacity="0.95" filter="url(#sh)"/>
<rect x="1931.8" y="776" width="27.4" height="170.5" rx="4" fill="url(#grSt)"/>
<rect x="1940.84" y="780" width="10.96" height="160.5" fill="url(#grStV)"/>
<rect x="1932.8" y="938.5" width="25.4" height="8" rx="3" fill="#23a44c"/>
<g transform="translate(1703.8 280.1) rotate(-41.5) translate(-42.75 -77.75)">
<rect x="0" y="0" width="84.3" height="155.5" rx="12" fill="#000" filter="url(#sh1)"/>
<rect x="3.5" y="1.5" width="82" height="151" rx="10" fill="url(#grO)"/>
<rect x="11.5" y="6" width="72" height="140.5" rx="6" fill="url(#grIa)"/>
</g>
<g transform="translate(1781.6 219.4) rotate(-41.5) translate(-42.25 -77.5)">
<rect x="0" y="0" width="83.3" height="155" rx="12" fill="#000" filter="url(#sh1)"/>
<rect x="3.5" y="1.5" width="81" height="150.5" rx="10" fill="url(#grO)"/>
<rect x="11.5" y="6" width="71" height="140" rx="6" fill="url(#grIa)"/>
</g>
<g transform="translate(1657.5 93.7) rotate(-41) translate(-42 -78.25)">
<rect x="0" y="0" width="82.8" height="156.5" rx="12" fill="#000" filter="url(#sh1)"/>
<rect x="4.5" y="2.5" width="79.5" height="150.5" rx="10" fill="url(#ylO)"/>
<rect x="10.5" y="5.5" width="71.5" height="144" rx="7" fill="url(#ylI)"/>
<rect x="10.5" y="47.89" width="71.5" height="7" fill="url(#bandSh)"/>
<rect x="10.5" y="85.45" width="71.5" height="7" fill="url(#bandSh)"/>
<rect x="10.5" y="123.32" width="71.5" height="7" fill="url(#bandSh)"/>
<g transform="rotate(8 42 40.3)"><rect x="-3" y="32.71" width="101" height="15.18" rx="1.5" fill="url(#bandG)"/>
<rect x="-3" y="37.26" width="101" height="6.07" fill="url(#bandW)"/></g>
<g transform="rotate(8 42 77.39)"><rect x="-3" y="69.33" width="101" height="16.12" rx="1.5" fill="url(#bandG)"/>
<rect x="-3" y="74.17" width="101" height="6.45" fill="url(#bandW)"/></g>
<g transform="rotate(8 42 115.65)"><rect x="-3" y="107.98" width="101" height="15.34" rx="1.5" fill="url(#bandG)"/>
<rect x="-3" y="112.59" width="101" height="6.13" fill="url(#bandW)"/></g>
</g>
<g transform="translate(1578.9 164.1) rotate(-41) translate(-42 -77.75)">
<rect x="0" y="0" width="82.8" height="155.5" rx="12" fill="#000" filter="url(#sh1)"/>
<rect x="4.5" y="2.5" width="79.5" height="149.5" rx="10" fill="url(#ylO)"/>
<rect x="10.5" y="5.5" width="71.5" height="143" rx="7" fill="url(#ylI)"/>
<rect x="10.5" y="47.58" width="71.5" height="7" fill="url(#bandSh)"/>
<rect x="10.5" y="84.9" width="71.5" height="7" fill="url(#bandSh)"/>
<rect x="10.5" y="122.53" width="71.5" height="7" fill="url(#bandSh)"/>
<g transform="rotate(8 42 40.04)"><rect x="-3" y="32.5" width="101" height="15.08" rx="1.5" fill="url(#bandG)"/>
<rect x="-3" y="37.02" width="101" height="6.03" fill="url(#bandW)"/></g>
<g transform="rotate(8 42 76.89)"><rect x="-3" y="68.89" width="101" height="16.02" rx="1.5" fill="url(#bandG)"/>
<rect x="-3" y="73.69" width="101" height="6.41" fill="url(#bandW)"/></g>
<g transform="rotate(8 42 114.91)"><rect x="-3" y="107.29" width="101" height="15.24" rx="1.5" fill="url(#bandG)"/>
<rect x="-3" y="111.87" width="101" height="6.1" fill="url(#bandW)"/></g>
</g>
<g transform="translate(1988.2 209.6) rotate(41) translate(-43.25 -77.35)">
<rect x="0" y="0" width="85.3" height="154.7" rx="12" fill="#000" filter="url(#sh1)"/>
<rect x="4" y="2.5" width="82.5" height="150.7" rx="10" fill="url(#grO)"/>
<rect x="15" y="8.5" width="69.5" height="140.2" rx="6" fill="url(#grIb)"/>
</g>
<g transform="translate(2065.5 276.4) rotate(40.5) translate(-43 -77.25)">
<rect x="0" y="0" width="84.8" height="154.5" rx="12" fill="#000" filter="url(#sh1)"/>
<rect x="4" y="2.5" width="82" height="150.5" rx="10" fill="url(#grO)"/>
<rect x="15" y="8.5" width="69" height="140" rx="6" fill="url(#grIb)"/>
</g>
<g transform="translate(2106 84.2) rotate(40.3) translate(-42.75 -77.15)">
<rect x="0" y="0" width="84.3" height="154.3" rx="12" fill="#000" filter="url(#sh1)"/>
<rect x="4.5" y="2.5" width="81" height="148.3" rx="10" fill="url(#ylO)"/>
<rect x="10.5" y="5.5" width="73" height="141.8" rx="7" fill="url(#ylIb)"/>
<rect x="10.5" y="5.5" width="73" height="141.8" rx="7" fill="url(#ylSide)"/>
<rect x="10.5" y="44.22" width="73" height="7" fill="url(#bandSh)"/>
<rect x="10.5" y="81.25" width="73" height="7" fill="url(#bandSh)"/>
<rect x="10.5" y="118.59" width="73" height="7" fill="url(#bandSh)"/>
<g transform="rotate(-1 42.75 36.73)"><rect x="-2" y="29.25" width="97.5" height="14.97" rx="1.5" fill="url(#bandG)"/>
<rect x="-2" y="33.74" width="97.5" height="5.99" fill="url(#bandW)"/></g>
<g transform="rotate(-1 42.75 73.3)"><rect x="-2" y="65.35" width="97.5" height="15.89" rx="1.5" fill="url(#bandG)"/>
<rect x="-2" y="70.12" width="97.5" height="6.36" fill="url(#bandW)"/></g>
<g transform="rotate(-1 42.75 111.03)"><rect x="-2" y="103.47" width="97.5" height="15.12" rx="1.5" fill="url(#bandG)"/>
<rect x="-2" y="108" width="97.5" height="6.05" fill="url(#bandW)"/></g>
</g>
<g transform="translate(2177 143.7) rotate(40.3) translate(-43 -77.2)">
<rect x="0" y="0" width="84.8" height="154.4" rx="12" fill="#000" filter="url(#sh1)"/>
<rect x="4.5" y="2.5" width="81.5" height="148.4" rx="10" fill="url(#ylO)"/>
<rect x="10.5" y="5.5" width="73.5" height="141.9" rx="7" fill="url(#ylIb)"/>
<rect x="10.5" y="5.5" width="73.5" height="141.9" rx="7" fill="url(#ylSide)"/>
<rect x="10.5" y="44.75" width="73.5" height="7" fill="url(#bandSh)"/>
<rect x="10.5" y="81.8" width="73.5" height="7" fill="url(#bandSh)"/>
<rect x="10.5" y="119.17" width="73.5" height="7" fill="url(#bandSh)"/>
<g transform="rotate(-1 43 37.26)"><rect x="-2" y="29.77" width="98" height="14.98" rx="1.5" fill="url(#bandG)"/>
<rect x="-2" y="34.26" width="98" height="5.99" fill="url(#bandW)"/></g>
<g transform="rotate(-1 43 73.85)"><rect x="-2" y="65.9" width="98" height="15.9" rx="1.5" fill="url(#bandG)"/>
<rect x="-2" y="70.67" width="98" height="6.36" fill="url(#bandW)"/></g>
<g transform="rotate(-1 43 111.6)"><rect x="-2" y="104.04" width="98" height="15.13" rx="1.5" fill="url(#bandG)"/>
<rect x="-2" y="108.58" width="98" height="6.05" fill="url(#bandW)"/></g>
</g>
<g transform="translate(1846.35 700.9) rotate(0) translate(-45.65 -79.3)">
<rect x="0" y="0" width="90.1" height="158.6" rx="15" fill="#000" filter="url(#sh1)"/>
<rect x="6" y="1.5" width="85.3" height="154.1" rx="13" fill="url(#grO)"/>
<rect x="17.5" y="9.5" width="69.3" height="138.6" rx="7" fill="url(#grI)"/>
</g>
<g transform="translate(1941.75 700.9) rotate(0) translate(-46.75 -79.3)">
<rect x="0" y="0" width="92.3" height="158.6" rx="15" fill="#000" filter="url(#sh1)"/>
<rect x="6" y="1.5" width="87.5" height="154.1" rx="13" fill="url(#grO)"/>
<rect x="17.5" y="9.5" width="71.5" height="138.6" rx="7" fill="url(#grI)"/>
</g>
<g transform="translate(1846.35 542) rotate(0) translate(-45.65 -79.6)">
<rect x="0" y="0" width="90.1" height="159.2" rx="15" fill="#000" filter="url(#sh1)"/>
<rect x="6" y="1.5" width="85.3" height="154.7" rx="13" fill="url(#grO)"/>
<rect x="17.5" y="9.5" width="69.3" height="139.2" rx="7" fill="url(#grI)"/>
</g>
<g transform="translate(1941.65 542) rotate(0) translate(-46.85 -79.6)">
<rect x="0" y="0" width="92.5" height="159.2" rx="15" fill="#000" filter="url(#sh1)"/>
<rect x="6" y="1.5" width="87.7" height="154.7" rx="13" fill="url(#grO)"/>
<rect x="17.5" y="9.5" width="71.7" height="139.2" rx="7" fill="url(#grI)"/>
</g>
<g transform="translate(1842.5 381.9) rotate(0) translate(-44.5 -79.9)">
<rect x="0" y="0" width="87.8" height="159.8" rx="15" fill="#000" filter="url(#sh1)"/>
<rect x="6" y="1.5" width="83" height="155.3" rx="13" fill="url(#grO)"/>
<rect x="17.5" y="9.5" width="67" height="139.8" rx="7" fill="url(#grI)"/>
</g>
<g transform="translate(1937.5 381.9) rotate(0) translate(-45.5 -79.9)">
<rect x="0" y="0" width="89.8" height="159.8" rx="15" fill="#000" filter="url(#sh1)"/>
<rect x="6" y="1.5" width="85" height="155.3" rx="13" fill="url(#grO)"/>
<rect x="17.5" y="9.5" width="69" height="139.8" rx="7" fill="url(#grI)"/>
</g>
<text x="74.76" y="565.1" font-size="58.1" textLength="113.4" lengthAdjust="spacingAndGlyphs">TCR</text>
<text class="gk" x="189.18" y="565.1" font-size="55" textLength="34.71" lengthAdjust="spacingAndGlyphs">α</text>
<text x="238.93" y="565.1" font-size="58.1" textLength="31.45" lengthAdjust="spacingAndGlyphs">o</text>
<text x="286.06" y="565.1" font-size="58.1" textLength="113.4" lengthAdjust="spacingAndGlyphs">TCR</text>
<text class="gd" x="398.01" y="565.1" font-size="50" textLength="24.62" lengthAdjust="spacingAndGlyphs">γ</text>
<text x="737.66" y="572.8" font-size="58.1" textLength="113.61" lengthAdjust="spacingAndGlyphs">TCR</text>
<text class="gk" x="852.75" y="572.8" font-size="55" textLength="30.39" lengthAdjust="spacingAndGlyphs">β</text>
<text x="896.55" y="572.8" font-size="58.1" textLength="32.51" lengthAdjust="spacingAndGlyphs">o</text>
<text x="943.95" y="572.8" font-size="58.1" textLength="114.64" lengthAdjust="spacingAndGlyphs">TCR</text>
<text class="gk" x="1057.17" y="572.8" font-size="55" textLength="29.15" lengthAdjust="spacingAndGlyphs">δ</text>
<text x="56.65" y="746.6" font-size="58.1" textLength="112.21" lengthAdjust="spacingAndGlyphs">CD3</text>
<text class="gd" x="165.94" y="746.6" font-size="50" textLength="22.52" lengthAdjust="spacingAndGlyphs">γ</text>
<text class="gk" x="191.59" y="746.6" font-size="55" textLength="21.92" lengthAdjust="spacingAndGlyphs">ε</text>
<text x="940.66" y="753.8" font-size="58.1" textLength="111.79" lengthAdjust="spacingAndGlyphs">CD3</text>
<text class="gd" x="1050.34" y="753.8" font-size="50" textLength="22.52" lengthAdjust="spacingAndGlyphs">γ</text>
<text class="gk" x="1076.09" y="753.8" font-size="55" textLength="20.84" lengthAdjust="spacingAndGlyphs">ε</text>
<text x="515.67" y="1194.7" font-size="58.1" textLength="111.37" lengthAdjust="spacingAndGlyphs">CD3</text>
<text class="gk" x="627.27" y="1194.7" font-size="55" textLength="25.1" lengthAdjust="spacingAndGlyphs">ζ</text>
<text class="gk" x="654.94" y="1194.7" font-size="55" textLength="29.14" lengthAdjust="spacingAndGlyphs">ζ</text>
<text x="1213.35" y="185" font-size="58.1" textLength="50.12" lengthAdjust="spacingAndGlyphs">Ig</text>
<text class="gd" x="1262.6" y="185" font-size="50" textLength="25.6" lengthAdjust="spacingAndGlyphs">κ</text>
<text x="1305.52" y="185" font-size="58.1" textLength="31.57" lengthAdjust="spacingAndGlyphs">o</text>
<text x="1351.51" y="185" font-size="58.1" textLength="49.63" lengthAdjust="spacingAndGlyphs">Ig</text>
<text class="gk" x="1400.17" y="185" font-size="55" textLength="28.14" lengthAdjust="spacingAndGlyphs">λ</text>
<text x="2292.35" y="185" font-size="58.1" textLength="50.12" lengthAdjust="spacingAndGlyphs">Ig</text>
<text class="gd" x="2341.6" y="185" font-size="50" textLength="25.6" lengthAdjust="spacingAndGlyphs">κ</text>
<text x="2384.52" y="185" font-size="58.1" textLength="31.57" lengthAdjust="spacingAndGlyphs">o</text>
<text x="2430.51" y="185" font-size="58.1" textLength="49.63" lengthAdjust="spacingAndGlyphs">Ig</text>
<text class="gk" x="2479.17" y="185" font-size="55" textLength="28.14" lengthAdjust="spacingAndGlyphs">λ</text>
<text x="1723.18" y="75" font-size="58.1" textLength="86.35" lengthAdjust="spacingAndGlyphs">IgH</text>
<text x="1950.88" y="75" font-size="58.1" textLength="86.35" lengthAdjust="spacingAndGlyphs">IgH</text>
<text x="1316.66" y="746.6" font-size="58.1" textLength="204.94" lengthAdjust="spacingAndGlyphs">CD79/Ig</text>
<text class="gk" x="1520.78" y="746.6" font-size="55" textLength="34.71" lengthAdjust="spacingAndGlyphs">α</text>
<text class="gk" x="1556.18" y="746.6" font-size="55" textLength="30.13" lengthAdjust="spacingAndGlyphs">β</text>
<text x="2209.98" y="762.8" font-size="58.1" textLength="203.6" lengthAdjust="spacingAndGlyphs">CD79/Ig</text>
<text class="gk" x="2414.62" y="762.8" font-size="55" textLength="32.79" lengthAdjust="spacingAndGlyphs">α</text>
<text class="gk" x="2450.21" y="762.8" font-size="55" textLength="29.88" lengthAdjust="spacingAndGlyphs">β</text>
</svg>
</body></html>
